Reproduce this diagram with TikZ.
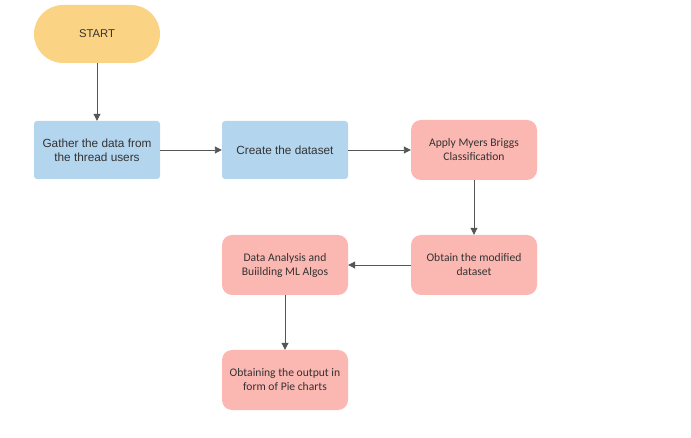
\documentclass[tikz,border=0pt]{standalone}
\usepackage{fontspec}
\setmainfont{Liberation Sans}
\newfontfamily\calibri{Carlito}
\usetikzlibrary{arrows.meta}
\definecolor{startfill}{HTML}{FBD384}
\definecolor{bluefill}{HTML}{B4D5EE}
\definecolor{pinkfill}{HTML}{FBB7B1}
\definecolor{linegray}{HTML}{555555}
\definecolor{textgray}{HTML}{333333}
\tikzset{
  startbox/.style={fill=startfill, rounded corners=29pt, minimum width=126pt, minimum height=58pt, text=textgray, font=\fontsize{11.3}{14}\selectfont},
  bluebox/.style={fill=bluefill, rounded corners=3pt, minimum width=126pt, minimum height=58pt, align=center, text=textgray, font=\fontsize{11.8}{14}\selectfont},
  pinkbox/.style={fill=pinkfill, rounded corners=10pt, minimum width=126pt, minimum height=60pt, align=center, text=textgray, font=\calibri\fontsize{11.6}{14}\selectfont},
  flow/.style={draw=linegray, line width=0.9pt, -{Triangle[length=7pt,width=7pt]}}
}
\begin{document}
\begin{tikzpicture}[x=1pt, y=-1pt]
    \useasboundingbox (0,0) rectangle (691,438);

    \node[startbox] (start) at (97, 34) {START};
    \node[bluebox] (gather) at (97, 150) {Gather the data from\\the thread users};
    \node[bluebox] (create) at (285, 150) {Create the dataset};
    \node[pinkbox] (apply) at (474, 150) {Apply Myers Briggs\\Classification};
    \node[pinkbox] (modified) at (474, 265) {Obtain the modified\\dataset};
    \node[pinkbox] (analysis) at (285, 265) {Data Analysis and\\Buiilding ML Algos};
    \node[pinkbox] (output) at (285, 380) {Obtaining the output in\\form of Pie charts};

    \draw [flow] (start) to (gather);
    \draw [flow] (gather) to (create);
    \draw [flow] (create) to (apply);
    \draw [flow] (apply) to (modified);
    \draw [flow] (modified) to (analysis);
    \draw [flow] (analysis) to (output);

\end{tikzpicture}
\end{document}
